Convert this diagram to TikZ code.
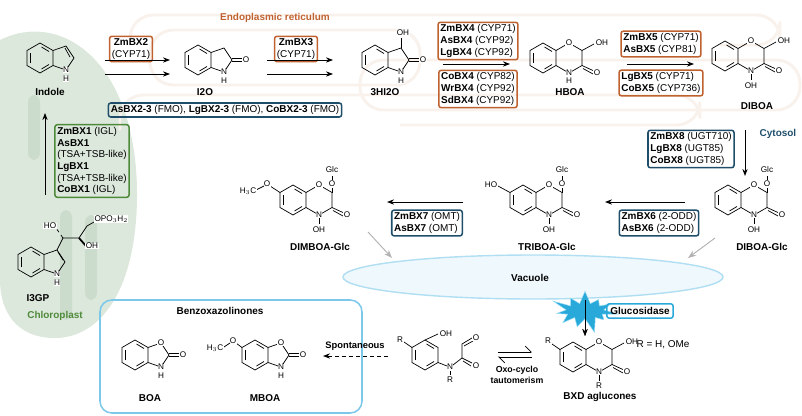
\documentclass[tikz,border=0pt]{standalone}
\usepackage{fontspec}
\setmainfont{Liberation Sans}
\usetikzlibrary{shapes.symbols,arrows.meta}
\definecolor{ora}{HTML}{C0622F}
\definecolor{dblue}{HTML}{1F4E6B}
\definecolor{grn}{HTML}{4E8A3A}
\definecolor{lblue}{HTML}{7CC8EA}
\definecolor{cyb}{HTML}{29A9D9}
\definecolor{chlo}{HTML}{DCE8DC}
\definecolor{chlo2}{HTML}{CCDCCC}
\tikzset{
 box/.style={draw,rounded corners=2pt,line width=1.3pt,align=left,inner sep=2pt,font=\fontsize{8.5}{10}\selectfont},
 ob/.style={box,draw=ora}, bb/.style={box,draw=dblue}, gb/.style={box,draw=grn},
 atom/.style={font=\fontsize{7}{7}\selectfont,fill=white,inner sep=0.3pt},
 lab/.style={font=\bfseries\fontsize{8.5}{10}\selectfont},
 arr/.style={-{Stealth[length=6pt]},line width=0.8pt},
 mol/.style={line width=0.6pt},
 er/.style={draw=ora!9,line width=2.5pt,rounded corners=20pt}
}
\newcommand\benz[2]{%
 \draw[mol] ({#1},{#2-15}) -- ({#1+13},{#2-7.5}) -- ({#1+13},{#2+7.5}) -- ({#1},{#2+15}) -- ({#1-13},{#2+7.5}) -- ({#1-13},{#2-7.5}) -- cycle;
 \draw[mol] ({#1+1.5},{#2-11}) -- ({#1+9},{#2-6.5});
 \draw[mol] ({#1+9},{#2+6.5}) -- ({#1+1.5},{#2+11});
 \draw[mol] ({#1-10},{#2+5}) -- ({#1-10},{#2-5});}
\newcommand\oxr[2]{%
 \draw[mol] ({#1+13},{#2-7.5}) -- ({#1+26},{#2-15}) -- ({#1+39},{#2-7.5}) -- ({#1+39},{#2+7.5}) -- ({#1+26},{#2+15}) -- ({#1+13},{#2+7.5});
 \draw[mol] ({#1+39},{#2+7.5}) -- ({#1+51},{#2+13});
 \draw[mol] ({#1+40},{#2+10.5}) -- ({#1+50},{#2+16});
 \node[atom] at ({#1+26},{#2-15}) {O};
 \node[atom] at ({#1+26},{#2+15}) {N};
 \node[atom] at ({#1+54},{#2+15}) {O};}
\newcommand\pent[2]{%
 \draw[mol] ({#1+13},{#2-7.5}) -- ({#1+26},{#2-12}) -- ({#1+34},{#2}) -- ({#1+26},{#2+12}) -- ({#1+13},{#2+7.5});}
\begin{document}
\begin{tikzpicture}[x=0.03cm,y=-0.03cm]
\useasboundingbox (0,0) rectangle (802,416);
% chloroplast
\fill[chlo] (0,40) .. controls (60,10) and (135,60) .. (137,190) .. controls (138,290) and (100,338) .. (55,338) .. controls (15,338) and (0,310) .. (0,280) -- cycle;
\fill[chlo2,rounded corners=6pt] (28,95) rectangle (40,160);
\fill[chlo2,rounded corners=6pt] (60,210) rectangle (72,320);
\fill[chlo2,rounded corners=6pt] (85,215) rectangle (97,300);
% ER
\draw[er] (130,40) -- (130,15) -- (780,15) -- (780,45) -- (720,45);
\draw[er] (150,30) rectangle (420,85);
\draw[er] (120,130) -- (120,95) -- (700,95) -- (700,125) -- (400,125);
\draw[er] (360,60) rectangle (800,110);
% vacuole
\fill[lblue!12,draw=lblue!60,line width=1.2pt] (533,277) ellipse [x radius=190,y radius=22];
\node[lab] (vact) at (530,278) {Vacuole};
% compartment labels
\node[lab,text=ora] (ert) at (275,18) {Endoplasmic reticulum};
\node[lab,text=dblue] (cyt) at (778,134) {Cytosol};
\node[lab,text=grn] (chl) at (55,316) {Chloroplast};
% Indole
\benz{40}{58}\pent{40}{58}
\draw[mol] (65,48) -- (70,57);
\node[atom] at (66,70) {N}; \node[atom] at (66,79) {H};
\node[lab] (indole) at (50,92) {Indole};
% I2O
\benz{198}{60}\pent{198}{60}
\draw[mol] (232,58.5) -- (243,58.5); \draw[mol] (232,61.5) -- (243,61.5);
\node[atom] at (246,60) {O};
\node[atom] at (224,72) {N}; \node[atom] at (224,81) {H};
\node[lab] (i2o) at (205,92) {I2O};
% 3HI2O
\benz{375}{60}\pent{375}{60}
\draw[mol] (401,48) -- (401,38); \node[atom] at (403,33) {OH};
\draw[mol] (409,58.5) -- (420,58.5); \draw[mol] (409,61.5) -- (420,61.5);
\node[atom] at (423,60) {O};
\node[atom] at (401,72) {N}; \node[atom] at (401,81) {H};
\node[lab] (hi2o) at (385,92) {3HI2O};
% HBOA
\benz{543}{58}\oxr{543}{58}
\draw[mol] (582,50.5) -- (594,44); \node[atom] at (602,43) {OH};
\node[atom] at (569,81) {H};
\node[lab] (hboa) at (570,92) {HBOA};
% DIBOA
\benz{725}{56}\oxr{725}{56}
\draw[mol] (764,48.5) -- (776,42); \node[atom] at (784,41) {OH};
\draw[mol] (751,74) -- (751,80); \node[atom] at (751,86) {OH};
\node[lab] (diboa) at (757,106) {DIBOA};
% DIBOA-Glc
\benz{728}{200}\oxr{728}{200}
\draw[mol] (767,192.5) -- (767,188); \node[atom] at (767,184) {O};
\draw[mol] (767,180) -- (767,176); \node[atom] at (767,170) {Glc};
\draw[mol] (754,218) -- (754,224); \node[atom] at (754,230) {OH};
\node[lab] (diboaglc) at (762,247) {DIBOA-Glc};
% TRIBOA-Glc
\benz{523}{200}\oxr{523}{200}
\draw[mol] (562,192.5) -- (562,188); \node[atom] at (562,184) {O};
\draw[mol] (562,180) -- (562,176); \node[atom] at (562,170) {Glc};
\draw[mol] (549,218) -- (549,224); \node[atom] at (549,230) {OH};
\draw[mol] (510,192.5) -- (498,186); \node[atom] at (491,185) {HO};
\node[lab] (triboa) at (547,247) {TRIBOA-Glc};
% DIMBOA-Glc
\benz{293}{200}\oxr{293}{200}
\draw[mol] (332,192.5) -- (332,188); \node[atom] at (332,184) {O};
\draw[mol] (332,180) -- (332,176); \node[atom] at (332,170) {Glc};
\draw[mol] (319,218) -- (319,224); \node[atom] at (319,230) {OH};
\draw[mol] (280,192.5) -- (270,186); \node[atom] at (267,184) {O};
\draw[mol] (264,186) -- (256,190); \node[atom] at (248,191) {H$_3$C};
\node[lab] (dimboa) at (320,247) {DIMBOA-Glc};
% I3GP
\benz{31}{262}\pent{31}{262}
\draw[mol] (57,250) -- (63,238) -- (79,238) -- (87,226) -- (94,222);
\draw[mol,dashed] (63,238) -- (56,228); \node[atom] at (50,226) {HO};
\draw[mol,line width=1.5pt] (79,238) -- (86,246); \node[atom] at (92,246) {OH};
\node[atom,anchor=west] at (94,219) {OPO$_3$H$_2$};
\draw[mol] (58,252) -- (63,260);
\node[atom] at (57,274) {N}; \node[atom] at (57,283) {H};
\node[lab] (i3gp) at (38,298) {I3GP};
% BOA
\benz{135}{355}\pent{135}{355}
\draw[mol] (169,353.5) -- (180,353.5); \draw[mol] (169,356.5) -- (180,356.5);
\node[atom] at (183,355) {O};
\node[atom] at (161,343) {O};
\node[atom] at (161,367) {N}; \node[atom] at (161,376) {H};
\node[lab] (boa) at (150,398) {BOA};
% MBOA
\benz{255}{355}\pent{255}{355}
\draw[mol] (289,353.5) -- (300,353.5); \draw[mol] (289,356.5) -- (300,356.5);
\node[atom] at (303,355) {O};
\node[atom] at (281,343) {O};
\node[atom] at (281,367) {N}; \node[atom] at (281,376) {H};
\draw[mol] (242,347.5) -- (236,343); \node[atom] at (233,341) {O};
\draw[mol] (230,343) -- (224,347); \node[atom] at (215,348) {H$_3$C};
\node[lab] (mboa) at (265,398) {MBOA};
% open form
\benz{425}{355}
\draw[mol] (412,347.5) -- (404,342); \node[atom] at (400,340) {R};
\draw[mol] (425,340) -- (438,334); \node[atom] at (446,334) {OH};
\draw[mol] (438,362.5) -- (447,366); \node[atom] at (450,367) {N};
\draw[mol] (450,371) -- (450,375); \node[atom] at (450,380) {R};
\draw[mol] (453,365) -- (462,358) -- (472,363); \draw[mol] (463,361) -- (471,366); \node[atom] at (476,366) {O};
\draw[mol] (462,358) -- (462,344) -- (472,338); \draw[mol] (464,346) -- (473,341); \node[atom] at (476,338) {O};
% BXD aglucones
\benz{573}{357}\oxr{573}{357}
\draw[mol] (612,349.5) -- (624,343); \node[atom] at (632,342) {OH};
\draw[mol] (560,349.5) -- (552,344); \node[atom] at (548,341) {R};
\draw[mol] (599,375) -- (599,381); \node[atom] at (599,386) {R};
\node[lab] (bxd) at (600,397) {BXD aglucones};
\node[font=\fontsize{8.5}{10}\selectfont] (rdef) at (663,345) {R = H, OMe};
% enzymes and arrows
\node[ob,align=center] (bx2) at (131,49) {\textbf{ZmBX2}\\(CYP71)};
\node[ob,align=center] (bx3) at (296,49) {\textbf{ZmBX3}\\(CYP71)};
\node[bb] (fmo) at (225,110) {\textbf{AsBX2-3} (FMO), \textbf{LgBX2-3} (FMO), \textbf{CoBX2-3} (FMO)};
\draw[arr] (105,60) -- (170,60); \draw[arr] (105,74) -- (170,74);
\draw[arr] (267,60) -- (333,60); \draw[arr] (267,74) -- (333,74);
\node[ob] (bx4a) at (478,41) {\textbf{ZmBX4} (CYP71)\\\textbf{AsBX4} (CYP92)\\\textbf{LgBX4} (CYP92)};
\node[ob] (bx4b) at (478,89) {\textbf{CoBX4} (CYP82)\\\textbf{WrBX4} (CYP92)\\\textbf{SdBX4} (CYP92)};
\draw[arr] (443,64) -- (510,64);
\node[ob] (bx5a) at (661,44) {\textbf{ZmBX5} (CYP71)\\\textbf{AsBX5} (CYP81)};
\node[ob] (bx5b) at (661,83) {\textbf{LgBX5} (CYP71)\\\textbf{CoBX5} (CYP736)};
\draw[arr] (627,64) -- (694,64);
\node[gb] (bx1) at (92,161) {\textbf{ZmBX1} (IGL)\\\textbf{AsBX1}\\(TSA+TSB-like)\\\textbf{LgBX1}\\(TSA+TSB-like)\\\textbf{CoBX1} (IGL)};
\draw[arr] (45,195) -- (45,113);
\node[bb] (bx8) at (691,149) {\textbf{ZmBX8} (UGT710)\\\textbf{LgBX8} (UGT85)\\\textbf{CoBX8} (UGT85)};
\draw[arr] (745,130) -- (745,176);
\node[bb] (bx6) at (659,223) {\textbf{ZmBX6} (2-ODD)\\\textbf{AsBX6} (2-ODD)};
\draw[arr] (685,202) -- (605,202);
\node[bb] (bx7) at (427,223) {\textbf{ZmBX7} (OMT)\\\textbf{AsBX7} (OMT)};
\draw[arr] (463,202) -- (387,202);
\draw[-{Stealth[length=7pt]},line width=0.8pt,gray!60] (715,238) -- (688,258);
\draw[-{Stealth[length=7pt]},line width=0.8pt,gray!60] (368,232) -- (392,258);
% glucosidase
\draw[arr] (585,294) -- (585,336);
\node[starburst,fill=cyb,draw=cyan!40,inner xsep=9pt,inner ysep=2pt,starburst points=11] (star) at (585,311) {\phantom{x}};
\draw[arr] (585,300) -- (585,336);
\node[box,draw=cyb,inner sep=3pt,font=\bfseries\fontsize{8.5}{10}\selectfont] (gluc) at (640,311) {Glucosidase};
% tautomerism
\draw[mol,-{Straight Barb[left,length=5pt]}] (498,352) -- (532,352);
\draw[mol,-{Straight Barb[left,length=5pt]}] (532,357) -- (498,357);
\node[align=center,font=\bfseries\fontsize{7.5}{9}\selectfont] (taut) at (517,375) {Oxo-cyclo\\tautomerism};
% benzoxazolinones
\draw[lblue,line width=1.3pt,rounded corners=10pt] (100,300) rectangle (362,413);
\node[lab] (bzt) at (220,311) {Benzoxazolinones};
\node[font=\bfseries\fontsize{8}{10}\selectfont] (spon) at (355,346) {Spontaneous};
\draw[arr,dashed] (388,356) -- (323,356);
\end{tikzpicture}
\end{document}
